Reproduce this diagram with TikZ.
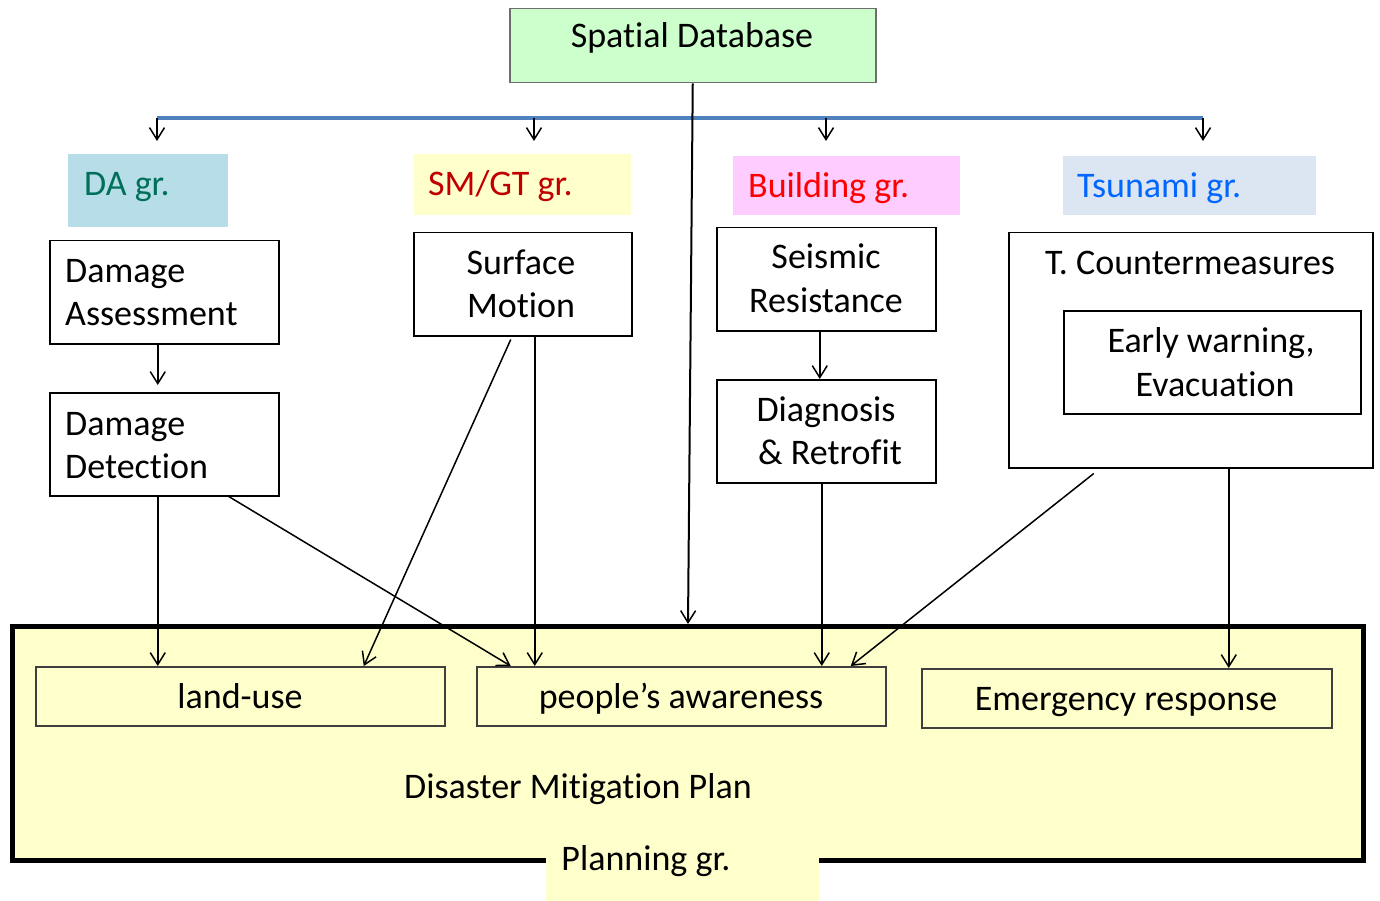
\documentclass[tikz,border=0pt]{standalone}
\usepackage{fontspec}
\setmainfont{Carlito}[Ligatures={NoCommon}]
\usetikzlibrary{arrows.meta}
\definecolor{sdbfill}{HTML}{CCFFCC}
\definecolor{sdbline}{HTML}{6E6E6E}
\definecolor{dafill}{HTML}{B7DDE8}
\definecolor{datext}{HTML}{00705A}
\definecolor{yel}{HTML}{FFFFCC}
\definecolor{smtext}{HTML}{C00000}
\definecolor{bufill}{HTML}{FFCCFF}
\definecolor{butext}{HTML}{FF0000}
\definecolor{tsfill}{HTML}{DCE6F2}
\definecolor{tstext}{HTML}{0066FF}
\definecolor{bluebar}{HTML}{4F81BD}
\definecolor{ybord}{HTML}{3F3F3F}
\begin{document}
\begin{tikzpicture}[x=1pt,y=-1pt,
  font=\fontsize{36pt}{43pt}\selectfont,
  box/.style={rectangle, draw=black, line width=1.5pt, fill=white, inner sep=0pt, anchor=north west},
  grp/.style={rectangle, draw=none, inner sep=0pt, anchor=north west},
  ybox/.style={rectangle, draw=ybord, line width=1.5pt, fill=yel, inner sep=0pt, anchor=north west},
  txt/.style={inner sep=0pt, anchor=base},
  ltxt/.style={inner sep=0pt, anchor=base west},
  arr/.style={-{Straight Barb[length=12pt,width=15pt,line width=1.5pt]}, line width=1.5pt, black},
]
\useasboundingbox (0,0) rectangle (1380,901);

% top database
\node[box, draw=sdbline, fill=sdbfill, minimum width=366pt, minimum height=74pt] (sdb) at (509,8) {};
\node[txt] (tsdb) at (692,48) {Spatial Database};

% group labels
\node[grp, fill=dafill, minimum width=160pt, minimum height=73pt] (dag) at (68,154) {};
\node[grp, fill=yel, minimum width=217pt, minimum height=61pt] (smg) at (414,154) {};
\node[grp, fill=bufill, minimum width=227pt, minimum height=59pt] (bug) at (733,156) {};
\node[grp, fill=tsfill, minimum width=253pt, minimum height=59pt] (tsg) at (1063,156) {};
\node[ltxt, text=datext] (tdag) at (84,196) {DA gr.};
\node[ltxt, text=smtext] (tsmg) at (428,196) {SM/GT gr.};
\node[ltxt, text=butext] (tbug) at (748,198) {Building gr.};
\node[ltxt, text=tstext] (ttsg) at (1077,198) {Tsunami gr.};

% blue distribution bar
\coordinate (bl) at (157,118);
\coordinate (br) at (1203,118);
\draw[bluebar, line width=3.5pt] (bl) -- (br);
\coordinate (a1) at (157,141);
\coordinate (a2) at (534,141);
\coordinate (a3) at (826,141);
\coordinate (a4) at (1203,141);
\foreach \c in {a1,a2,a3,a4} \draw[arr] (\c |- bl) -- (\c);

% task boxes
\node[box, minimum width=229pt, minimum height=103pt] (da) at (49,240) {};
\node[box, minimum width=229pt, minimum height=103pt] (dd) at (49,392) {};
\node[box, minimum width=218pt, minimum height=103pt] (sm) at (413,232) {};
\node[box, minimum width=219pt, minimum height=103pt] (sr) at (716,227) {};
\node[box, minimum width=219pt, minimum height=103pt] (dr) at (716,379) {};
\node[box, minimum width=364pt, minimum height=235pt] (tc) at (1008,232) {};
\node[box, minimum width=297pt, minimum height=103pt] (ew) at (1063,310) {};

\node[ltxt] (tda1) at (65,282) {Damage};
\node[ltxt] (tda2) at (65,325) {Assessment};
\node[ltxt] (tdd1) at (65,435) {Damage};
\node[ltxt] (tdd2) at (65,478) {Detection};
\node[txt] (tsm1) at (521,274) {Surface};
\node[txt] (tsm2) at (521,317) {Motion};
\node[txt] (tsr1) at (826,269) {Seismic};
\node[txt] (tsr2) at (826,312) {Resistance};
\node[txt] (tdr1) at (826,421) {Diagnosis};
\node[txt] (tdr2) at (830,464) {\&\ Retrofit};
\node[txt] (ttc) at (1190,274) {T. Countermeasures};
\node[txt] (tew1) at (1211,352) {Early warning,};
\node[txt] (tew2) at (1215,396) {Evacuation};

% planning box
\node[box, line width=5pt, fill=yel, minimum width=1351pt, minimum height=234pt] (big) at (10,624) {};
\node[ybox, minimum width=409pt, minimum height=59pt] (lu) at (35,666) {};
\node[ybox, minimum width=409pt, minimum height=59pt] (pa) at (476,666) {};
\node[ybox, minimum width=410pt, minimum height=59pt] (er) at (921,668) {};
\node[grp, fill=yel, minimum width=273pt, minimum height=58pt] (pg) at (546,843) {};
\node[txt] (tlu) at (240,708) {land-use};
\node[txt] (tpa) at (681,708) {people’s awareness};
\node[txt] (ter) at (1126,710) {Emergency response};
\node[txt] (tdmp) at (578,798) {Disaster Mitigation Plan};
\node[txt] (tpg) at (646,870) {Planning gr.};

% connectors
\draw[arr, line width=2pt] (sdb.south) -- (big.north);
\draw[arr] ([xshift=-6.5pt]da.south) -- ([xshift=-6.5pt,yshift=7pt]dd.north);
\draw[arr] ([xshift=-6.5pt]sr.south) -- ([xshift=-6.5pt]dr.north);
\draw[arr] ([xshift=-6.5pt]dd.south) -- ([xshift=-82.5pt]lu.north);
\draw[arr] ([xshift=64.5pt]dd.south) -- ([xshift=-170.5pt]pa.north);
\draw[arr] ([xshift=-12pt,yshift=-3pt]sm.south) -- ([xshift=123.5pt]lu.north);
\draw[arr] ([xshift=12pt]sm.south) -- ([xshift=-146.5pt]pa.north);
\draw[arr] ([xshift=-4.5pt]dr.south) -- ([xshift=140.5pt]pa.north);
\draw[arr] ([xshift=-97pt,yshift=-5pt]tc.south) -- ([xshift=169.5pt]pa.north);
\draw[arr] ([xshift=38pt]tc.south) -- ([xshift=102pt]er.north);
\end{tikzpicture}
\end{document}
